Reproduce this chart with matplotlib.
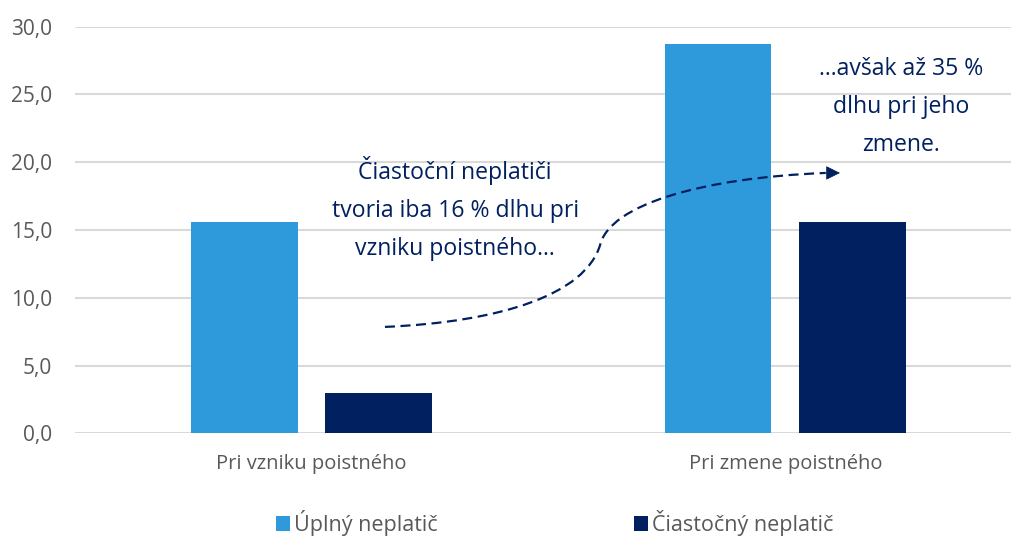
import matplotlib.pyplot as plt
from matplotlib.path import Path
from matplotlib.patches import PathPatch
import numpy as np

plt.rcParams["font.family"] = ["Open Sans", "DejaVu Sans"]

# data
categories = ["Pri vzniku poistného", "Pri zmene poistného"]
uplny = [15.6, 28.7]
ciastocny = [3.0, 15.6]
series_names = ["Úplný neplatič", "Čiastočný neplatič"]
y_ticks = [0, 5, 10, 15, 20, 25, 30]
y_tick_labels = ["0,0", "5,0", "10,0", "15,0", "20,0", "25,0", "30,0"]

light_blue = "#2E9ADC"
navy = "#002060"
grey_text = "#595959"
grid_col = "#D9D9D9"

fig = plt.figure(figsize=(10.11, 5.36), dpi=100)
ax = fig.add_axes([0.0742, 0.1916, 0.9258, 0.7586])

x = np.arange(len(categories))
w = 0.225
off = 0.142
ax.bar(x - off, uplny, w, color=light_blue, label=series_names[0], zorder=3)
ax.bar(x + off, ciastocny, w, color=navy, label=series_names[1], zorder=3)

ax.set_xlim(-0.499, 1.476)
ax.set_ylim(0, 30)
ax.set_yticks(y_ticks)
ax.set_yticklabels(y_tick_labels)
ax.set_xticks(x)
ax.set_xticklabels(categories)
ax.tick_params(axis="both", length=0, colors=grey_text)
ax.tick_params(axis="y", pad=16.5, labelsize=15)
ax.tick_params(axis="x", pad=15, labelsize=14.5)
ax.yaxis.grid(True, color=grid_col, linewidth=1.5, zorder=0)
for s in ax.spines.values():
    s.set_visible(False)

# annotations
ax.text(0.303, 16.6, "Čiastoční neplatiči\ntvoria iba 16 % dlhu pri\nvzniku poistného...",
        ha="center", va="center", fontsize=16.6, color=navy, linespacing=1.78)
ax.text(1.244, 24.1, "...avšak až 35 %\ndlhu pri jeho\nzmene.",
        ha="center", va="center", fontsize=16.6, color=navy, linespacing=1.78)

verts = [(0.155, 7.85), (0.398, 8.22), (0.577, 10.21), (0.609, 13.90),
         (0.630, 16.85), (0.820, 18.84), (1.085, 19.21)]
codes = [Path.MOVETO] + [Path.CURVE4] * 6
ax.add_patch(PathPatch(Path(verts, codes), fill=False, edgecolor=navy,
                       linewidth=1.6, linestyle=(0, (4.5, 2.5)), zorder=4))
ax.annotate("", xy=(1.115, 19.21), xytext=(1.08, 19.21),
            arrowprops=dict(arrowstyle="-|>,head_length=0.9,head_width=0.45",
                            color=navy, lw=0.5, shrinkA=0, shrinkB=0), zorder=5)

leg = fig.legend(loc="lower center", bbox_to_anchor=(0.5485, -0.036), ncol=2,
                 frameon=False, fontsize=15.5, handlelength=0.65, handleheight=0.65,
                 handletextpad=0.2, columnspacing=9.1)
for t in leg.get_texts():
    t.set_color(grey_text)

fig.savefig("out.png", dpi=100)
